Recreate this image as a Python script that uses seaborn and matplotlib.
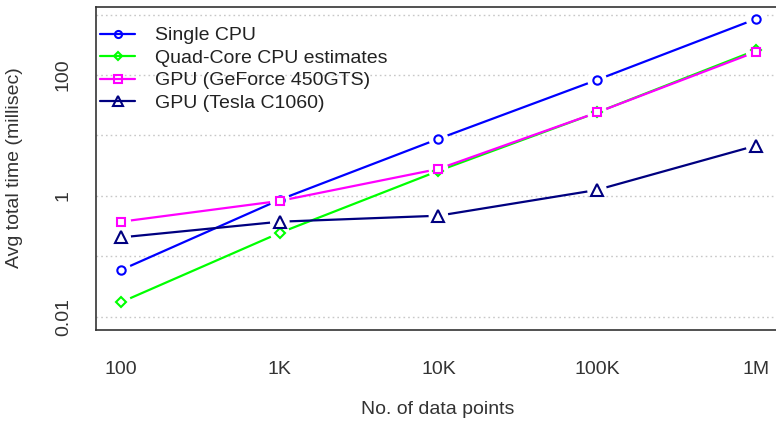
import matplotlib
matplotlib.use("Agg")
import matplotlib.pyplot as plt
from matplotlib.lines import Line2D
import seaborn as sns
import pandas as pd

# ---- data ----
n_points = [100, 1000, 10000, 100000, 1000000]
x_labels = ["100", "1K", "10K", "100K", "1M"]
single_cpu = [0.060, 0.87, 8.8, 83, 840]
quad_cpu = [0.0176, 0.246, 2.6, 24, 255]
gpu_450gts = [0.376, 0.83, 2.8, 24, 240]
gpu_tesla = [0.207, 0.376, 0.472, 1.26, 6.78]
series_names = ["Single CPU", "Quad-Core CPU estimates",
                "GPU (GeForce 450GTS)", "GPU (Tesla C1060)"]
y_ticks = [0.01, 1, 100]
y_tick_labels = ["0.01", "1", "100"]
y_grid = [0.01, 0.1, 1, 10, 100, 1000]

sns.set_style("white")
plt.rcParams["font.family"] = ["Liberation Sans", "DejaVu Sans"]

colors = ["#0000FF", "#00FF00", "#FF00FF", "#000080"]
markers = ["o", "D", "s", "^"]
msizes = [6, 5.2, 6, 8]
values = [single_cpu, quad_cpu, gpu_450gts, gpu_tesla]

fig = plt.figure(figsize=(7.76, 4.26), dpi=100)
ax = fig.add_axes([95.5 / 776, 96 / 426, 685.5 / 776, 323 / 426])

handles = []
for i, (name, vals, c, m, ms) in enumerate(zip(series_names, values, colors, markers, msizes)):
    df = pd.DataFrame({"n": n_points, "t": vals})
    z = 3 + 2 * i
    sns.lineplot(data=df, x="n", y="t", color=c, lw=1.6, ax=ax, zorder=z,
                 estimator=None, legend=False)
    sns.scatterplot(data=df, x="n", y="t", color="white", s=200, marker="o",
                    edgecolor="none", linewidth=0, ax=ax, zorder=z + 1, legend=False)
    sns.lineplot(data=df, x="n", y="t", color=c, lw=0, marker=m, ms=ms,
                 mfc="white", mec=c, mew=1.5, ax=ax, zorder=20 + i,
                 estimator=None, legend=False)
    handles.append(Line2D([], [], color=c, lw=1.6, marker=m, ms=ms * 0.85,
                          mfc="none", mec=c, mew=1.5))

ax.set_xscale("log")
ax.set_yscale("log")
ax.set_xlim(10 ** 1.838, 10 ** 6.16)
ax.set_ylim(10 ** -2.215, 10 ** 3.124)

ax.set_xticks(n_points)
ax.set_xticklabels(x_labels)
ax.xaxis.set_minor_locator(matplotlib.ticker.NullLocator())
ax.set_yticks(y_ticks)
ax.set_yticklabels(y_tick_labels, rotation=90, va="center")
ax.yaxis.set_minor_locator(matplotlib.ticker.FixedLocator([v for v in y_grid if v not in y_ticks]))
ax.yaxis.set_minor_formatter(matplotlib.ticker.NullFormatter())
ax.tick_params(axis="y", which="minor", length=0)
ax.tick_params(axis="both", which="major", direction="out", length=8,
               width=1.0, color="#333333", labelsize=14, labelcolor="#333333")
ax.tick_params(axis="x", pad=14)
ax.tick_params(axis="y", pad=9)
ax.grid(False)
ax.grid(axis="y", which="both", color="#c8c8c8", lw=1.0, ls=(0, (1.2, 2.2)))
ax.set_axisbelow(True)

for side in ["left", "bottom", "top"]:
    ax.spines[side].set_visible(True)
    ax.spines[side].set_color("#333333")
    ax.spines[side].set_linewidth(1.2)
ax.spines["right"].set_visible(False)

ax.set_xlabel("")
ax.set_ylabel("")
fig.text(438 / 776, 1 - 410 / 426, "No. of data points", ha="center", va="center",
         fontsize=14, color="#333333")
fig.text(15 / 776, 1 - 168 / 426, "Avg total time (millisec)", ha="center",
         va="center", rotation=90, fontsize=14, color="#333333")

ax.legend(handles, series_names, loc="upper left", bbox_to_anchor=(0.0, 1 - 15 / 323),
          frameon=False, fontsize=14, handlelength=1.8, handletextpad=1.0,
          labelspacing=0.25, borderaxespad=0.0, borderpad=0.25,
          labelcolor="#222222")

fig.savefig("out.png", dpi=100)
